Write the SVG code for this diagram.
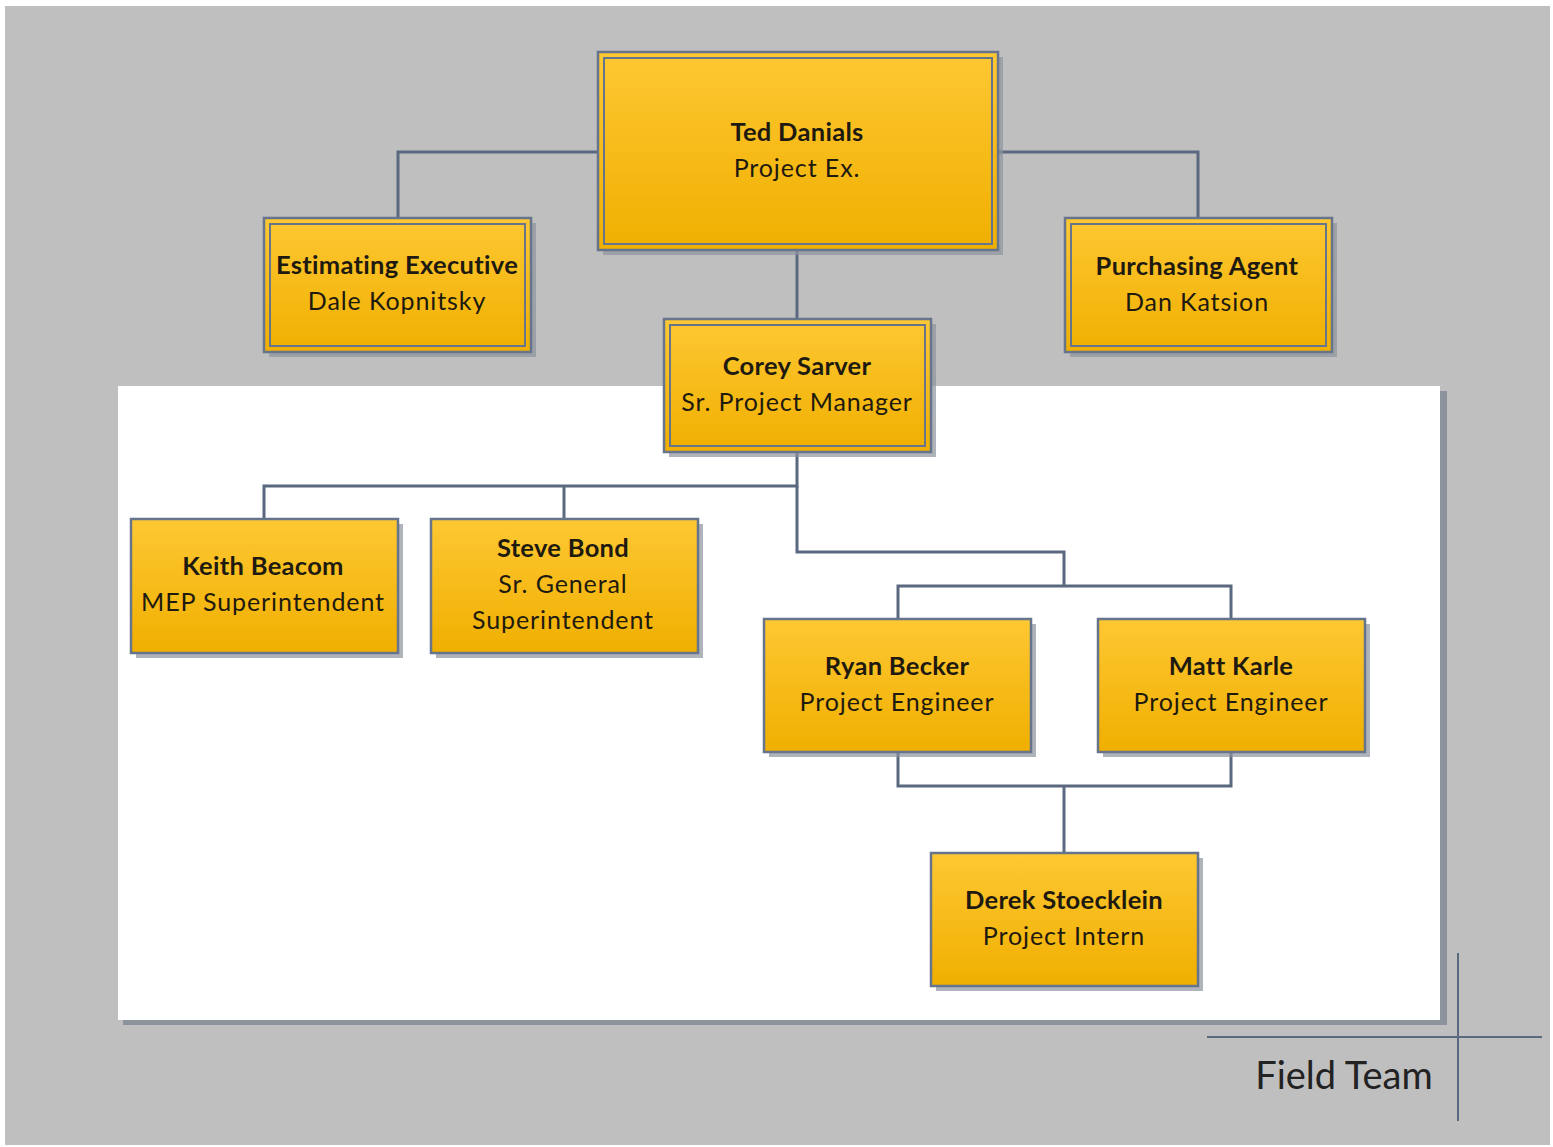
<svg xmlns="http://www.w3.org/2000/svg" width="1553" height="1147" viewBox="0 0 1553 1147">
<defs>
<linearGradient id="g" x1="0" y1="0" x2="0" y2="1">
<stop offset="0" stop-color="#fec833"/>
<stop offset="1" stop-color="#f0af00"/>
</linearGradient>
<style>
.box{fill:url(#g);stroke:#66758c;stroke-width:2.5}
.inner{fill:none;stroke:#66758c;stroke-width:2}
.sh{fill:#8d939c;opacity:0.7}
.c{fill:none;stroke:#5a6880;stroke-width:3}
.t{font-family:Lato,"Liberation Sans",sans-serif;font-size:25px;letter-spacing:0.9px;fill:#1e1a10;text-anchor:middle}
.b{font-weight:bold;font-size:25.5px;letter-spacing:0.3px}
</style>
</defs>
<rect x="0" y="0" width="1553" height="1147" fill="#ffffff"/>
<rect x="5" y="6" width="1545" height="1139" fill="#bfbfbf"/>
<rect x="123" y="391" width="1324" height="634" fill="#8d939c"/>
<rect x="118" y="386" width="1322" height="634" fill="#ffffff"/>
<g id="connectors">
<path class="c" d="M598 152 H398 V218"/>
<path class="c" d="M998 152 H1198 V218"/>
<path class="c" d="M797 250 V319"/>
<path class="c" d="M797 452 V486 H264 V519"/>
<path class="c" d="M564 486 V519"/>
<path class="c" d="M797 486 V552 H1064 V586"/>
<path class="c" d="M898 619 V586 H1231 V619"/>
<path class="c" d="M898 752 V786 H1231 V752"/>
<path class="c" d="M1064 786 V853"/>
</g>
<g id="ted">
<rect class="sh" x="603" y="57" width="400" height="198"/>
<rect class="box" x="598" y="52" width="400" height="198"/>
<rect class="inner" x="604" y="58" width="388" height="186"/>
<text class="t b" x="797" y="141">Ted Danials</text>
<text class="t" x="797" y="177">Project Ex.</text>
</g>
<g id="estimating">
<rect class="sh" x="269" y="223" width="267" height="134"/>
<rect class="box" x="264" y="218" width="267" height="134"/>
<rect class="inner" x="270" y="224" width="255" height="122"/>
<text class="t b" x="397" y="274">Estimating Executive</text>
<text class="t" x="397" y="310">Dale Kopnitsky</text>
</g>
<g id="purchasing">
<rect class="sh" x="1070" y="223" width="267" height="134"/>
<rect class="box" x="1065" y="218" width="267" height="134"/>
<rect class="inner" x="1071" y="224" width="255" height="122"/>
<text class="t b" x="1197" y="275">Purchasing Agent</text>
<text class="t" x="1197" y="311">Dan Katsion</text>
</g>
<g id="corey">
<rect class="sh" x="669" y="324" width="267" height="133"/>
<rect class="box" x="664" y="319" width="267" height="133"/>
<rect class="inner" x="670" y="325" width="255" height="121"/>
<text class="t b" x="797" y="375">Corey Sarver</text>
<text class="t" x="797" y="411">Sr. Project Manager</text>
</g>
<g id="keith">
<rect class="sh" x="136" y="524" width="267" height="134"/>
<rect class="box" x="131" y="519" width="267" height="134"/>
<text class="t b" x="263" y="575">Keith Beacom</text>
<text class="t" x="263" y="611">MEP Superintendent</text>
</g>
<g id="steve">
<rect class="sh" x="436" y="524" width="267" height="134"/>
<rect class="box" x="431" y="519" width="267" height="134"/>
<text class="t b" x="563" y="557">Steve Bond</text>
<text class="t" x="563" y="593">Sr. General</text>
<text class="t" x="563" y="629">Superintendent</text>
</g>
<g id="ryan">
<rect class="sh" x="769" y="624" width="267" height="133"/>
<rect class="box" x="764" y="619" width="267" height="133"/>
<text class="t b" x="897" y="675">Ryan Becker</text>
<text class="t" x="897" y="711">Project Engineer</text>
</g>
<g id="matt">
<rect class="sh" x="1103" y="624" width="267" height="133"/>
<rect class="box" x="1098" y="619" width="267" height="133"/>
<text class="t b" x="1231" y="675">Matt Karle</text>
<text class="t" x="1231" y="711">Project Engineer</text>
</g>
<g id="derek">
<rect class="sh" x="936" y="858" width="267" height="133"/>
<rect class="box" x="931" y="853" width="267" height="133"/>
<text class="t b" x="1064" y="909">Derek Stoecklein</text>
<text class="t" x="1064" y="945">Project Intern</text>
</g>
<g id="field-team">
<line x1="1207" y1="1037" x2="1542" y2="1037" stroke="#5a6880" stroke-width="2"/>
<line x1="1458" y1="953" x2="1458" y2="1121" stroke="#5a6880" stroke-width="2"/>
<text x="1344" y="1089" font-family="Lato,'Liberation Sans',sans-serif" font-size="38" fill="#222" text-anchor="middle">Field Team</text>
</g>
</svg>
